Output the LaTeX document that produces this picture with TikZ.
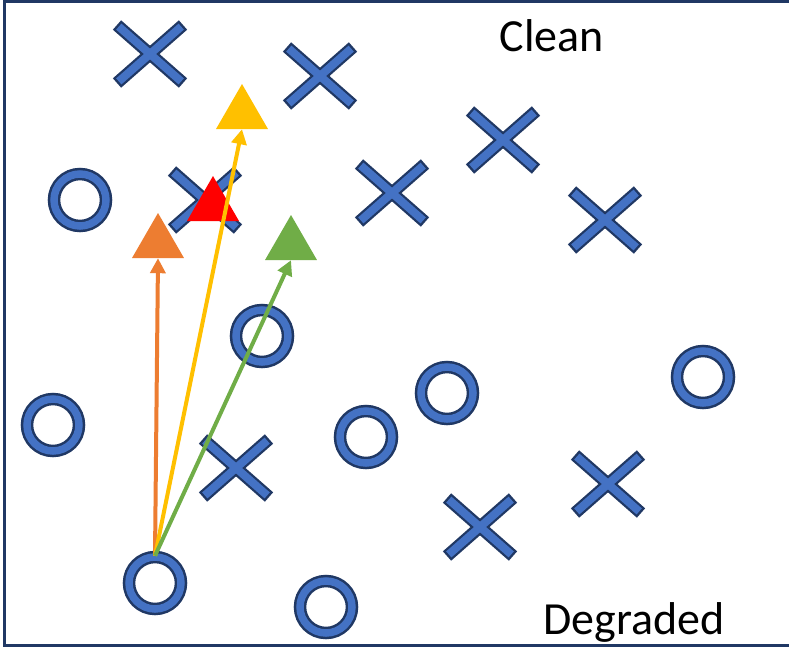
\documentclass[tikz,border=0pt]{standalone}
\usepackage{fontspec}
\setmainfont{Carlito}
\usetikzlibrary{shapes.geometric,arrows.meta}
\definecolor{oblue}{HTML}{4472C4}
\definecolor{odark}{HTML}{203864}
\definecolor{oorange}{HTML}{ED7D31}
\definecolor{oyellow}{HTML}{FFC000}
\definecolor{ogreen}{HTML}{70AD47}
\definecolor{ored}{HTML}{FF0000}
\tikzset{
  ring/.style={circle, inner sep=0pt, minimum size=52pt, draw=odark, line width=2.5pt, double=oblue, double distance=7.5pt},
  tri/.style={regular polygon, regular polygon sides=3, inner sep=0pt, minimum size=60pt, fill=#1},
  conn/.style={line width=4pt, draw=#1, -{Triangle[length=15pt,width=15pt]}},
  lbl/.style={font=\fontsize{46}{55}\selectfont, anchor=base, inner sep=0pt},
  pics/xmark/.style={code={
    \draw[odark, line width=12.5pt] (-33,-29) -- (33,29);
    \draw[odark, line width=12.5pt] (-33,29) -- (33,-29);
    \draw[oblue, line width=8pt] (-31.2,-27.4) -- (31.2,27.4);
    \draw[oblue, line width=8pt] (-31.2,27.4) -- (31.2,-27.4);
  }}
}
\begin{document}
\begin{tikzpicture}[x=1pt,y=-1pt]
\useasboundingbox (0,0) rectangle (789,649);
\fill[white] (0,0) rectangle (789,649);
\draw[odark, line width=3pt] (4,1.5) rectangle (800,645);
% crosses
\pic at (150,54) {xmark};
\pic at (320,76) {xmark};
\pic at (503,140) {xmark};
\pic at (392,193) {xmark};
\pic at (605,220) {xmark};
\pic at (205,200) {xmark};
\pic at (236,468) {xmark};
\pic at (480,527) {xmark};
\pic at (608,484) {xmark};
% circles
\node[ring] (o1) at (80,200) {};
\node[ring] (o2) at (262,336) {};
\node[ring] (o3) at (53,425) {};
\node[ring] (o4) at (366,437) {};
\node[ring] (o5) at (447,393) {};
\node[ring] (o6) at (703,377) {};
\node[ring] (o7) at (155,583) {};
\node[ring] (o8) at (326,607) {};
% triangles
\node[tri=ored] (tr) at (213,206) {};
\node[tri=oyellow] (ty) at (242,114) {};
\node[tri=oorange] (to) at (158,243) {};
\node[tri=ogreen] (tg) at (291,245) {};
% arrows
\draw[conn=oorange] (o7.north) -- (to.side 2);
\draw[conn=oyellow] (o7.north) -- (ty.side 2);
\draw[conn=ogreen] (o7.north) -- (tg.side 2);
% labels
\node[lbl] (clean) at (552,51) {Clean};
\node[lbl] (degr) at (634,634) {Degraded};
\end{tikzpicture}
\end{document}
